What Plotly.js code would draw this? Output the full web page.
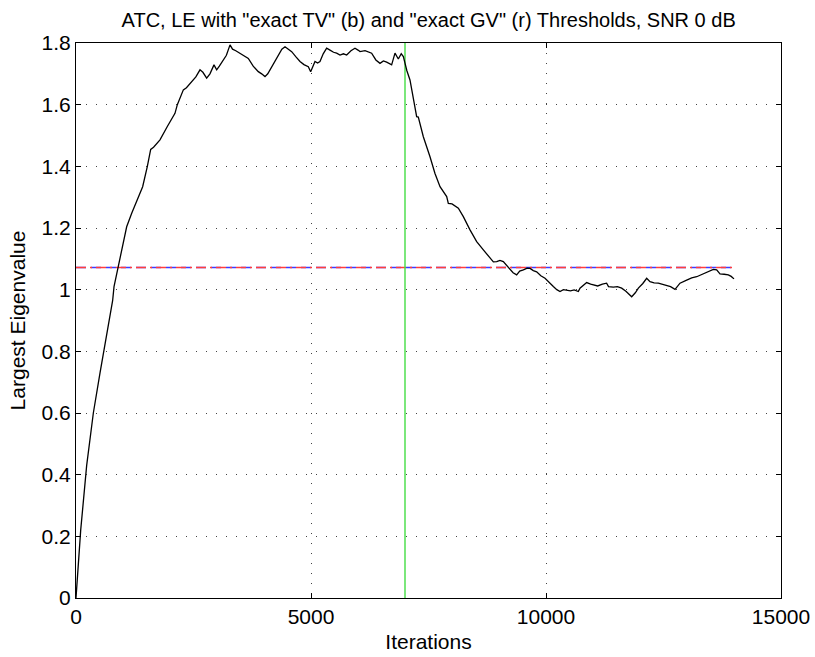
<!DOCTYPE html>
<html>
<head>
<meta charset="utf-8">
<script src="https://cdn.plot.ly/plotly-3.0.1.min.js"></script>
<style>html,body{margin:0;padding:0;background:#fff;}#chart{width:815px;height:657px;}</style>
</head>
<body>
<div id="chart"></div>
<script>
const iterations = [0,100,227,369,511,653,780,809,900,1078,1185,1291,1305,1418,1518,1589,1650,1700,1787,1943,2106,2156,2284,2350,2461,2550,2638,2700,2780,2850,2936,2993,3050,3134,3200,3277,3330,3400,3489,3580,3666,3770,3879,3950,4021,4080,4128,4220,4305,4380,4447,4520,4589,4680,4766,4850,4943,4993,5040,5085,5140,5191,5260,5333,5404,5480,5546,5617,5690,5759,5850,5936,6000,6043,6150,6290,6380,6468,6540,6610,6716,6787,6858,6920,6965,7040,7106,7142,7248,7283,7390,7532,7638,7745,7887,7922,8000,8135,8241,8383,8525,8667,8809,8880,8951,9020,9092,9160,9234,9300,9376,9440,9518,9600,9660,9730,9801,9890,9979,10070,10156,10230,10298,10370,10440,10520,10600,10688,10723,10865,10950,11007,11100,11200,11290,11330,11433,11520,11610,11700,11787,11823,11900,11965,12060,12142,12213,12300,12390,12480,12567,12650,12745,12851,12993,13100,13206,13300,13383,13480,13560,13631,13702,13790,13879,13940,13986,14000];
const eigenvalues = [0,0.22,0.43,0.60,0.73,0.86,0.965,1.01,1.075,1.204,1.248,1.29,1.29,1.334,1.40,1.455,1.462,1.47,1.486,1.529,1.572,1.60,1.648,1.655,1.675,1.69,1.713,1.705,1.686,1.70,1.729,1.713,1.725,1.745,1.76,1.794,1.78,1.775,1.767,1.76,1.75,1.725,1.707,1.70,1.691,1.70,1.713,1.74,1.761,1.78,1.788,1.78,1.772,1.755,1.74,1.73,1.723,1.707,1.725,1.74,1.735,1.74,1.765,1.783,1.777,1.77,1.767,1.761,1.765,1.761,1.775,1.783,1.777,1.772,1.775,1.767,1.745,1.734,1.742,1.738,1.729,1.767,1.748,1.765,1.756,1.71,1.68,1.648,1.561,1.56,1.496,1.431,1.377,1.334,1.302,1.28,1.278,1.264,1.237,1.194,1.156,1.129,1.102,1.09,1.091,1.095,1.091,1.08,1.069,1.055,1.048,1.06,1.064,1.07,1.069,1.062,1.058,1.045,1.037,1.022,1.010,1.0,0.994,1.0,0.999,0.996,0.999,0.994,1.005,1.023,1.018,1.015,1.012,1.018,1.021,1.01,1.008,1.01,1.005,0.995,0.983,0.977,0.99,1.005,1.02,1.037,1.026,1.022,1.021,1.018,1.015,1.01,1.001,1.021,1.031,1.038,1.042,1.048,1.055,1.06,1.066,1.064,1.051,1.05,1.048,1.043,1.037,1.035];

const thresholdIters = [0, 14000];
const exactTV = [1.072, 1.072];
const exactGV = [1.072, 1.072];
const switchIter = [7000, 7000];
const switchRange = [0, 1.8];

const xTicks = [0, 5000, 10000, 15000];
const yTicks = [0, 0.2, 0.4, 0.6, 0.8, 1, 1.2, 1.4, 1.6, 1.8];

const FONT = 'Liberation Sans, Arial, Helvetica, sans-serif';
const FS = 21;

const data = [
  {x: thresholdIters, y: exactTV, mode: 'lines', line: {color: '#3d3dff', width: 1.6, dash: '10px,5px'}, hoverinfo: 'skip'},
  {x: thresholdIters, y: exactGV, mode: 'lines', line: {color: '#ff3d3d', width: 1.6, dash: '10px,4px,2px,4px'}, hoverinfo: 'skip'},
  {x: switchIter, y: switchRange, mode: 'lines', line: {color: '#44dd44', width: 1.4}, hoverinfo: 'skip'},
  {x: iterations, y: eigenvalues, mode: 'lines', line: {color: '#000000', width: 1.3}}
];

const axisCommon = {
  showline: true, linecolor: '#000', linewidth: 1, mirror: 'ticks',
  ticks: 'inside', ticklen: 5, tickcolor: '#000',
  showgrid: true, gridcolor: '#444', gridwidth: 1, griddash: '1px,9px',
  zeroline: false,
  tickfont: {family: FONT, size: FS, color: '#000'}
};

const layout = {
  width: 815, height: 657,
  margin: {l: 76, r: 34, t: 43, b: 59},
  paper_bgcolor: '#fff', plot_bgcolor: '#fff',
  showlegend: false,
  title: {text: 'ATC, LE with "exact TV" (b) and "exact GV" (r) Thresholds, SNR 0 dB',
          font: {family: FONT, size: 20, color: '#000'},
          x: 0.526, xanchor: 'center', y: 1 - 20/657, yanchor: 'middle'},
  xaxis: Object.assign({}, axisCommon, {
    range: [0, 15000], tickvals: xTicks, ticktext: xTicks.map(String),
    title: {text: 'Iterations', font: {family: FONT, size: FS, color: '#000'}, standoff: 7}
  }),
  yaxis: Object.assign({}, axisCommon, {
    range: [0, 1.8], tickvals: yTicks, ticktext: yTicks.map(String),
    title: {text: 'Largest Eigenvalue', font: {family: FONT, size: FS, color: '#000'}, standoff: 10}
  })
};

Plotly.newPlot('chart', data, layout, {displayModeBar: false, staticPlot: true});
</script>
</body>
</html>
